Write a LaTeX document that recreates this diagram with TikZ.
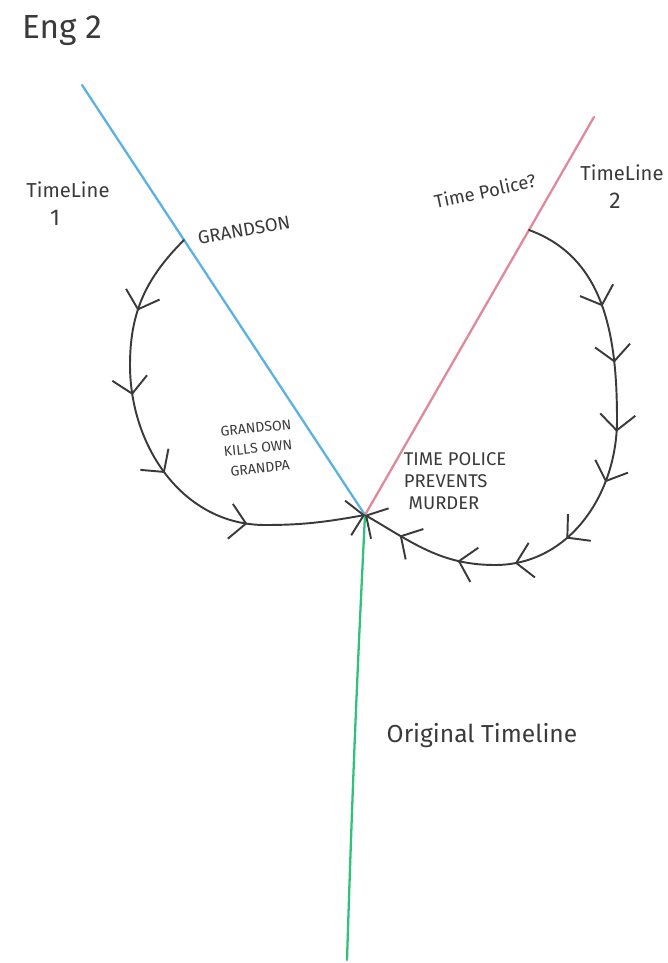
\documentclass[tikz,border=0pt]{standalone}
\usepackage{fontspec}
\setmainfont{Fira Sans}
\usetikzlibrary{arrows.meta,positioning,decorations.markings}
\definecolor{pencil}{HTML}{3A3A3A}
\definecolor{tlblue}{HTML}{5AB2E4}
\definecolor{tlpink}{HTML}{E0899B}
\definecolor{tlgreen}{HTML}{2EC27A}

\begin{document}
\begin{tikzpicture}[x=0.02cm, y=0.02cm, text=pencil, font=\fontsize{10.5}{13}\selectfont,
  >={Straight Barb[length=9pt,width=20pt]},
  timeline/.style={line width=1.3pt, line cap=round},
  loopline/.style={draw=pencil, line width=1.1pt, line cap=round},
  chev/.style={postaction={decorate, decoration={markings, mark=at position #1 with {\arrow{>}}}}}]
  \useasboundingbox (0,0) rectangle (667,-963);

  % where the timelines split
  \coordinate (J) at (365,-515);
  \coordinate (blueTop) at (82,-85);
  \coordinate (pinkTop) at (594,-117);
  \coordinate (greenEnd) at (347,-960);
  \coordinate (gs) at (184,-240);
  \coordinate (tp) at (529,-230);

  \draw[timeline, tlblue] (blueTop) -- (J);
  \draw[timeline, tlpink] (J) -- (pinkTop);
  \draw[timeline, tlgreen] (J) to[bend right=0.5] (greenEnd);

  % loops back to the split
  \coordinate (lw) at (130,-365);
  \coordinate (lb) at (265,-525);
  \draw[loopline, ->, chev=0.18, chev=0.36, chev=0.54, chev=0.75]
    (gs) to[out=225,in=90] (lw) to[out=-90,in=180] (lb) to[out=0,in=190] (J);
  \coordinate (re) at (617,-420);
  \coordinate (rb) at (495,-565);
  \draw[loopline, ->, chev=0.19, chev=0.29, chev=0.41, chev=0.50, chev=0.62, chev=0.72, chev=0.82, chev=0.93]
    (tp) to[out=-20,in=90] (re) to[out=-90,in=0] (rb) to[out=180,in=-30] (J);

  % labels
  \node[font=\fontsize{19}{22}\selectfont] (title) at (62,-31) {Eng 2};
  \node[font=\fontsize{11.5}{14}\selectfont] (tl1) at (68,-190) {TimeLine};
  \node[font=\fontsize{13}{14}\selectfont, below=0pt of tl1, xshift=-0.26cm] (tl1num) {1};
  \node[rotate=10] (gsLabel) at (244,-230) {GRANDSON};
  \node[rotate=12, inner sep=1pt] (tpLabel) at (485,-191) {Time Police?};
  \node[font=\fontsize{11.5}{14}\selectfont] (tl2) at (622,-173) {TimeLine};
  \node[font=\fontsize{13}{14}\selectfont, below=0pt of tl2, xshift=-0.14cm] (tl2num) {2};
  \node[align=center, rotate=6, font=\fontsize{8}{11.5}\selectfont] (kill) at (258,-448) {GRANDSON\\KILLS OWN\\GRANDPA};
  \node[align=left, font=\fontsize{10.5}{12.5}\selectfont] (stop) at (455,-481) {TIME POLICE\\PREVENTS\\\ MURDER};
  \node[font=\fontsize{14}{16}\selectfont] (orig) at (482,-736) {Original Timeline};
\end{tikzpicture}
\end{document}
